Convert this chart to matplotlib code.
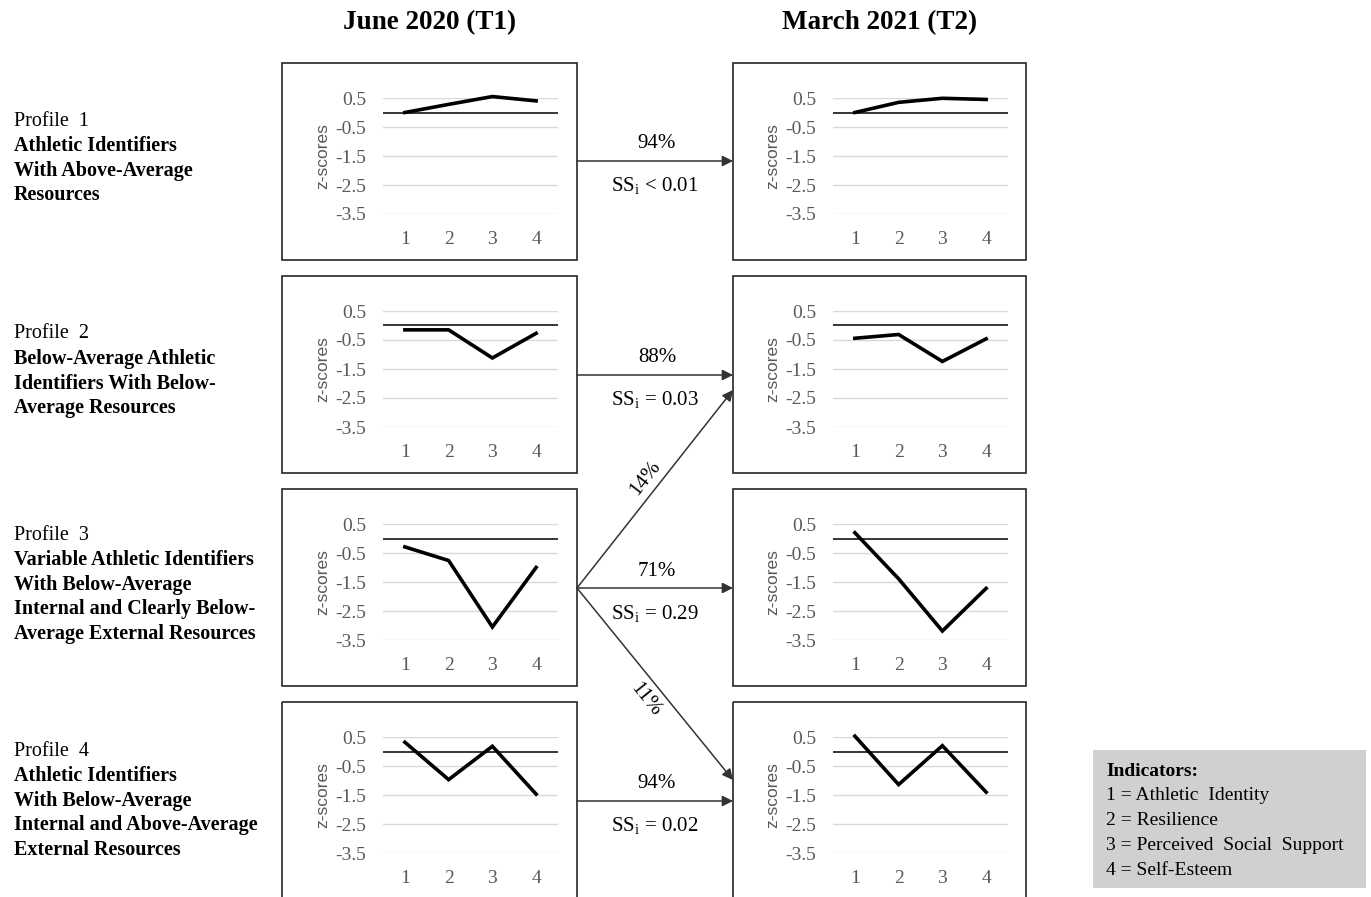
import matplotlib
matplotlib.use("Agg")
import matplotlib.pyplot as plt
from matplotlib.patches import Rectangle, FancyArrowPatch

plt.rcParams['font.family'] = ['Liberation Serif', 'DejaVu Serif']
plt.rcParams['mathtext.fontset'] = 'custom'
plt.rcParams['mathtext.rm'] = 'Liberation Serif'
plt.rcParams['mathtext.it'] = 'Liberation Serif:italic'

# data: z-scores of the four indicators per profile
indicators = [1, 2, 3, 4]
yticks = [0.5, -0.5, -1.5, -2.5, -3.5]

t1_profile1 = [0.00, 0.28, 0.55, 0.40]
t1_profile2 = [-0.15, -0.15, -1.12, -0.27]
t1_profile3 = [-0.29, -0.76, -3.05, -1.00]
t1_profile4 = [0.32, -0.97, 0.18, -1.47]

t2_profile1 = [0.00, 0.35, 0.49, 0.45]
t2_profile2 = [-0.44, -0.31, -1.24, -0.46]
t2_profile3 = [0.20, -1.39, -3.19, -1.72]
t2_profile4 = [0.53, -1.14, 0.20, -1.40]

t1_series = [t1_profile1, t1_profile2, t1_profile3, t1_profile4]
t2_series = [t2_profile1, t2_profile2, t2_profile3, t2_profile4]

column_titles = ["June 2020 (T1)", "March 2021 (T2)"]
profile_names = ["Profile  1", "Profile  2", "Profile  3", "Profile  4"]
profile_desc = [
    ["Athletic Identifiers", "With Above-Average", "Resources"],
    ["Below-Average Athletic", "Identifiers With Below-", "Average Resources"],
    ["Variable Athletic Identifiers", "With Below-Average",
     "Internal and Clearly Below-", "Average External Resources"],
    ["Athletic Identifiers", "With Below-Average",
     "Internal and Above-Average", "External Resources"],
]
stay_pct = ["94%", "88%", "71%", "94%"]
stay_ss = [r"SS$_\mathrm{i}$ < 0.01", r"SS$_\mathrm{i}$ = 0.03",
           r"SS$_\mathrm{i}$ = 0.29", r"SS$_\mathrm{i}$ = 0.02"]
legend_lines = ["1 = Athletic  Identity", "2 = Resilience",
                "3 = Perceived  Social  Support", "4 = Self-Esteem"]

W, H = 1371, 897
fig = plt.figure(figsize=(W / 100, H / 100), dpi=100)

# background axes in pixel coordinates
bg = fig.add_axes([0, 0, 1, 1])
bg.set_xlim(0, W)
bg.set_ylim(H, 0)
bg.axis('off')

row_tops = [63, 276, 489, 702]
panel_h = 197
col_frames = [(282, 577), (733, 1026)]
col_plot = [(383, 558), (833, 1008)]
gray = '#595959'

def draw_panel(x0, x1, top, values):
    ax = fig.add_axes([x0 / W, 1 - (top + 151) / H, (x1 - x0) / W, 116 / H])
    for yv in yticks:
        ax.axhline(yv, color='#d9d9d9', lw=1, zorder=1)
    ax.axhline(0, color='black', lw=1.1, zorder=2)
    ax.plot(indicators, values, color='black', lw=2.6, zorder=3,
            clip_on=False, solid_joinstyle='miter')
    ax.set_xlim(0.5, 4.5)
    ax.set_ylim(-3.5, 0.5)
    ax.set_xticks(indicators)
    ax.set_yticks(yticks)
    ax.set_yticklabels([f"{v:.1f}" for v in yticks])
    ax.tick_params(length=0, labelsize=14, labelcolor=gray)
    ax.tick_params(axis='y', pad=12)
    ax.tick_params(axis='x', pad=12.5)
    for s in ax.spines.values():
        s.set_visible(False)
    ax.patch.set_alpha(0)
    ax.set_ylabel("z-scores", family='Liberation Sans', fontsize=12.5,
                  color=gray, labelpad=4)
    return ax

for r, top in enumerate(row_tops):
    for c, series in enumerate([t1_series, t2_series]):
        fx0, fx1 = col_frames[c]
        bg.add_patch(Rectangle((fx0, top), fx1 - fx0, panel_h, fill=False,
                               ec='#262626', lw=1.2))
        draw_panel(col_plot[c][0], col_plot[c][1], top, series[r])

# column titles
bg.text(430, 23, column_titles[0], fontsize=19.5, weight='bold', ha='center', va='center')
bg.text(880, 23, column_titles[1], fontsize=19.5, weight='bold', ha='center', va='center')

# profile labels
label_starts = [121, 334, 535, 751]
for r in range(4):
    y = label_starts[r]
    bg.text(14, y, profile_names[r], fontsize=14.5, ha='left', va='center')
    for line in profile_desc[r]:
        y += 24.8
        bg.text(14, y, line, fontsize=14.5, weight='bold', ha='left', va='center')

# transition arrows
arrow_kw = dict(arrowstyle='-|>', mutation_scale=16, color='#333333', lw=1.1,
                shrinkA=0, shrinkB=0)
stay_y = [161, 375, 588, 801]
for r, y in enumerate(stay_y):
    bg.add_patch(FancyArrowPatch((577, y), (733, y), **arrow_kw))
    bg.text(657, y - 17, stay_pct[r], fontsize=15, ha='center', va='center')
    bg.text(655, y + 25, stay_ss[r], fontsize=15, ha='center', va='center')

bg.add_patch(FancyArrowPatch((577, 588), (733, 390), **arrow_kw))
bg.add_patch(FancyArrowPatch((577, 588), (733, 780), **arrow_kw))
bg.text(645, 478, "14%", fontsize=15, rotation=52, ha='center', va='center')
bg.text(645, 700, "11%", fontsize=15, rotation=-51, ha='center', va='center')

# indicator legend
bg.add_patch(Rectangle((1093, 750), 273, 138, fc='#d0d0d0', ec='none'))
bg.text(1106, 771, "Indicators:", fontsize=14, weight='bold', ha='left', va='center')
for i, line in enumerate(legend_lines):
    bg.text(1106, 796 + i * 24.7, line, fontsize=14, ha='left', va='center')

fig.savefig("out.png", dpi=100)
